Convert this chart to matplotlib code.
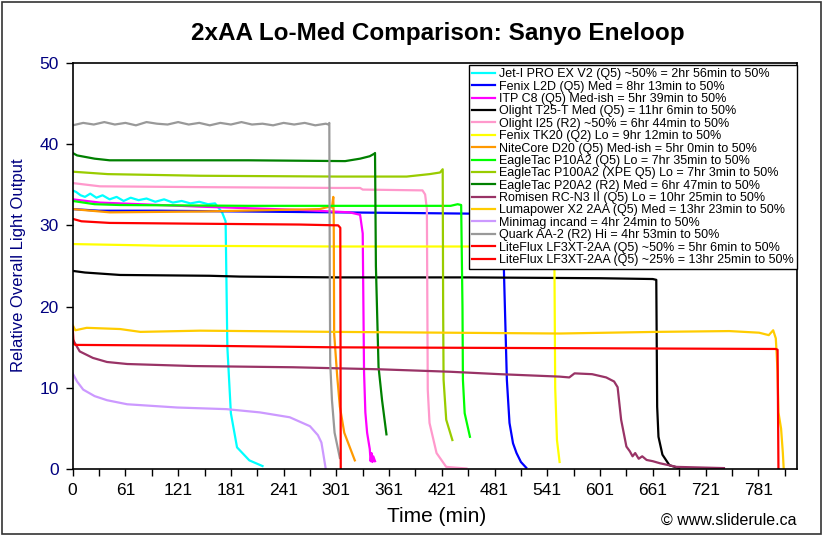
import matplotlib
matplotlib.use('Agg')
import matplotlib.pyplot as plt
from matplotlib.patches import Rectangle

plt.rcParams['font.family'] = ['Liberation Sans', 'DejaVu Sans']

# time (min) / relative output
jet_t = [0, 4, 9, 14, 20, 27, 34, 42, 50, 58, 66, 75, 84, 94, 104, 114, 124, 134, 144, 154, 162, 170, 174, 176, 180, 187, 201, 216]
jet_v = [34.3, 34.1, 33.7, 33.5, 33.9, 33.4, 33.7, 33.2, 33.5, 33.0, 33.4, 33.1, 33.3, 32.9, 33.2, 32.8, 33.0, 32.7, 32.9, 32.6, 32.7, 31.6, 30.5, 15.0, 6.9, 2.7, 1.1, 0.4]

l2d_t = [0, 30, 100, 200, 300, 400, 489, 491, 494, 497, 501, 505, 510, 516]
l2d_v = [32.0, 31.8, 31.8, 31.7, 31.6, 31.5, 31.4, 23.0, 11.0, 5.7, 3.2, 2.0, 0.9, 0.2]

itp_t = [0, 31, 145, 258, 315, 327, 330, 331.5, 333, 335, 338, 339, 340, 341, 342, 344]
itp_v = [33.2, 32.8, 32.3, 31.9, 31.6, 31.3, 29.0, 12.0, 7.0, 4.5, 2.5, 1.0, 2.0, 0.9, 1.6, 1.0]

t25_t = [0, 14, 54, 156, 190, 300, 450, 600, 660, 664, 665, 666.5, 671, 679, 690]
t25_v = [24.4, 24.2, 23.9, 23.8, 23.7, 23.6, 23.6, 23.5, 23.4, 23.3, 7.7, 4.0, 1.8, 0.5, 0.15]

i25_t = [0, 31, 145, 300, 327, 330, 398, 401, 403, 404, 406, 414, 425, 448]
i25_v = [35.2, 34.8, 34.7, 34.6, 34.6, 34.4, 34.3, 33.8, 32.0, 9.8, 5.7, 2.0, 0.3, 0.1]

tk20_t = [0, 100, 300, 545, 548, 549, 551, 554]
tk20_v = [27.7, 27.5, 27.4, 27.4, 27.2, 10.0, 3.6, 0.9]

d20_t = [0, 42, 145, 281, 292, 295, 296.5, 297, 297.5, 301, 304, 309, 321]
d20_v = [32.0, 31.6, 31.7, 32.0, 32.3, 32.2, 33.5, 31.0, 16.7, 11.4, 7.7, 4.5, 1.1]

p10_t = [0, 25, 54, 200, 430, 438, 442, 443.5, 444, 446, 452]
p10_v = [33.0, 32.6, 32.5, 32.4, 32.4, 32.6, 32.5, 20.0, 11.0, 6.9, 4.0]

p100_t = [0, 40, 145, 300, 380, 406, 418, 421, 421.5, 422, 425, 432]
p100_v = [36.6, 36.3, 36.1, 36.0, 36.0, 36.3, 36.5, 36.9, 20.0, 11.0, 6.1, 3.6]

p20_t = [0, 5, 25, 42, 200, 310, 327, 338, 343, 344, 345, 348, 352, 357]
p20_v = [38.9, 38.6, 38.2, 38.0, 38.0, 37.9, 38.2, 38.5, 38.8, 38.9, 25.0, 12.6, 8.5, 4.3]

rom_t = [0, 8, 23, 39, 62, 137, 251, 349, 429, 486, 554, 565, 571, 591, 607, 616, 620, 624, 630, 634, 637, 640, 644, 648, 653, 660, 668, 687, 741]
rom_v = [16.0, 14.5, 13.7, 13.2, 12.95, 12.7, 12.55, 12.3, 12.0, 11.7, 11.4, 11.3, 11.8, 11.7, 11.3, 10.8, 10.1, 6.1, 2.8, 2.2, 1.6, 2.0, 1.3, 1.6, 1.15, 1.0, 0.75, 0.3, 0.15]

luma_t = [0, 3, 16, 54, 77, 145, 300, 554, 664, 747, 781, 792, 797, 800, 802, 803, 806, 808, 809]
luma_v = [17.75, 17.1, 17.4, 17.25, 16.9, 17.05, 16.9, 16.7, 16.9, 17.0, 16.8, 16.5, 17.1, 16.1, 12.0, 7.0, 5.0, 2.0, 0.0]

mini_t = [0, 5, 12, 25, 39, 62, 119, 175, 213, 247, 270, 279, 283, 285, 288]
mini_v = [11.8, 10.8, 9.8, 9.0, 8.5, 8.0, 7.6, 7.4, 7.0, 6.4, 5.3, 4.2, 3.3, 2.0, 0.0]

quark_t = [0, 12, 24, 36, 48, 60, 72, 84, 96, 108, 120, 132, 144, 156, 168, 180, 192, 204, 216, 228, 240, 252, 264, 276, 288, 291, 292, 292.5, 293, 295, 298, 304]
quark_v = [42.3, 42.6, 42.4, 42.7, 42.4, 42.6, 42.3, 42.7, 42.5, 42.4, 42.7, 42.4, 42.6, 42.3, 42.6, 42.4, 42.7, 42.4, 42.5, 42.3, 42.6, 42.4, 42.6, 42.3, 42.5, 42.4, 42.6, 25.0, 13.1, 8.5, 4.5, 1.4]

lf50_t = [0, 10, 42, 145, 258, 302, 304.5, 305]
lf50_v = [30.8, 30.5, 30.3, 30.2, 30.1, 30.0, 29.7, 0.0]

lf25_t = [0, 1, 3, 145, 300, 554, 800, 802, 803]
lf25_v = [17.5, 15.5, 15.3, 15.2, 15.0, 14.9, 14.8, 14.7, 0.0]

series = [
    ('Jet-I PRO EX V2 (Q5) ~50% = 2hr 56min to 50%', jet_t, jet_v, '#00ffff'),
    ('Fenix L2D (Q5) Med = 8hr 13min to 50%', l2d_t, l2d_v, '#0000ff'),
    ('ITP C8 (Q5) Med-ish = 5hr 39min to 50%', itp_t, itp_v, '#ff00ff'),
    ('Olight T25-T Med (Q5) = 11hr 6min to 50%', t25_t, t25_v, '#000000'),
    ('Olight I25 (R2) ~50% = 6hr 44min to 50%', i25_t, i25_v, '#ff99cc'),
    ('Fenix TK20 (Q2) Lo = 9hr 12min to 50%', tk20_t, tk20_v, '#ffff00'),
    ('NiteCore D20 (Q5) Med-ish = 5hr 0min to 50%', d20_t, d20_v, '#ff9900'),
    ('EagleTac P10A2 (Q5) Lo = 7hr 35min to 50%', p10_t, p10_v, '#00ff00'),
    ('EagleTac P100A2 (XPE Q5) Lo = 7hr 3min to 50%', p100_t, p100_v, '#99cc00'),
    ('EagleTac P20A2 (R2) Med = 6hr 47min to 50%', p20_t, p20_v, '#008000'),
    ('Romisen RC-N3 II (Q5) Lo = 10hr 25min to 50%', rom_t, rom_v, '#993366'),
    ('Lumapower X2 2AA (Q5) Med = 13hr 23min to 50%', luma_t, luma_v, '#ffcc00'),
    ('Minimag incand = 4hr 24min to 50%', mini_t, mini_v, '#cc99ff'),
    ('Quark AA-2 (R2) Hi = 4hr 53min to 50%', quark_t, quark_v, '#999999'),
    ('LiteFlux LF3XT-2AA (Q5) ~50% = 5hr 6min to 50%', lf50_t, lf50_v, '#ff0000'),
    ('LiteFlux LF3XT-2AA (Q5) ~25% = 13hr 25min to 50%', lf25_t, lf25_v, '#ff0000'),
]

xtick_pos = list(range(0, 781, 60))
xtick_lab = ['0'] + [str(p + 1) for p in xtick_pos[1:]]

fig = plt.figure(figsize=(8.23, 5.36), dpi=100)
ax = fig.add_axes([0.0883, 0.1244, 0.880, 0.7586])

for name, t, v, c in series:
    ax.plot(t, v, color=c, lw=1.6, label=name)

ax.set_xlim(0, 824)
ax.set_ylim(0, 50)
ax.set_xticks(xtick_pos)
ax.set_xticklabels(xtick_lab)
ax.set_xticks(list(range(30, 811, 60)), minor=True)
ax.set_yticks(range(0, 51, 10))
ax.tick_params(axis='x', which='both', direction='out', length=5, width=1, labelsize=12.5, pad=5)
ax.tick_params(axis='y', direction='out', length=5, width=1, labelsize=12.5, labelcolor='#000080', pad=5)
for s in ax.spines.values():
    s.set_linewidth(1.2)

leg = ax.legend(loc='upper right', bbox_to_anchor=(1.0, 0.994), fontsize=9,
                frameon=True, fancybox=False, edgecolor='black', framealpha=1,
                handlelength=1.8, handletextpad=0.35, labelspacing=0.03,
                borderpad=0.25, borderaxespad=0)
leg.get_frame().set_linewidth(1)

fig.text(0.532, 0.938, '2xAA Lo-Med Comparison: Sanyo Eneloop', ha='center', va='center',
         fontsize=17.5, fontweight='bold')
fig.text(0.022, 0.505, 'Relative Overall Light Output', rotation=90, ha='center', va='center',
         fontsize=12, color='#000080')
fig.text(0.530, 0.037, 'Time (min)', ha='center', va='center', fontsize=15)
fig.text(0.968, 0.03, '\u00a9 www.sliderule.ca', ha='right', va='center', fontsize=11.5)

fig.patches.append(Rectangle((0.003, 0.003), 0.994, 0.994, transform=fig.transFigure,
                             fill=False, edgecolor='#333333', lw=1.2))

fig.savefig('out.png', dpi=100)
